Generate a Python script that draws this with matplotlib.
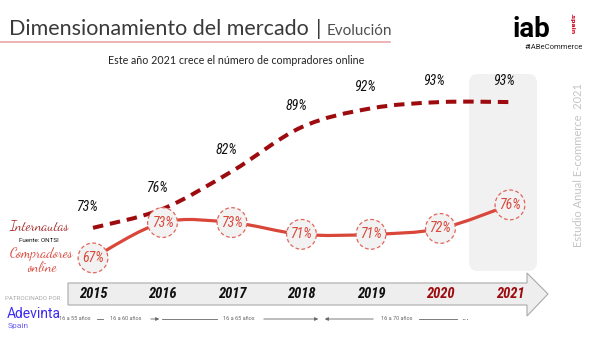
import matplotlib
matplotlib.use("Agg")
import matplotlib.pyplot as plt
import numpy as np
from matplotlib.path import Path
from matplotlib.patches import PathPatch, FancyBboxPatch, Polygon

# data
years = ["2015", "2016", "2017", "2018", "2019", "2020", "2021"]
internautas = [73, 76, 82, 89, 92, 93, 93]
compradores = [67, 73, 73, 71, 71, 72, 76]
edades = ["16 a 55 años", "16 a 60 años", "16 a 65 años", "16 a 70 años"]

DARK = "#9E0B0F"
CORAL = "#D9473A"
NARROW = ["Roboto Condensed", "DejaVu Sans"]
SCRIPT = ["Dancing Script", "DejaVu Serif"]
TITLE = ["Lato", "DejaVu Sans"]
PLAIN = ["Roboto", "DejaVu Sans"]


def smooth(x, y):
    # catmull-rom -> bezier, drawn by matplotlib's own curve renderer
    pts = np.column_stack([x, y]).astype(float)
    n = len(pts)
    verts = [pts[0]]
    codes = [Path.MOVETO]
    for i in range(n - 1):
        p0 = pts[max(i - 1, 0)]
        p1 = pts[i]
        p2 = pts[i + 1]
        p3 = pts[min(i + 2, n - 1)]
        verts += [p1 + (p2 - p0) / 6.0, p2 - (p3 - p1) / 6.0, p2]
        codes += [Path.CURVE4] * 3
    return Path(verts, codes)


fig = plt.figure(figsize=(6, 3.38), dpi=100)
W, H = 600.0, 338.0

# overlay in pixel coords for decoration
ov = fig.add_axes([0, 0, 1, 1])
ov.set_xlim(0, W)
ov.set_ylim(H, 0)
ov.axis("off")

# title
ov.text(9, 35, "Dimensionamiento del mercado", fontsize=15.5, color="#3A3A3A",
        family=TITLE, va="baseline")
ov.text(316, 35, "|", fontsize=15.5, color="#3A3A3A", family=TITLE, va="baseline")
ov.text(327, 35, "Evolución", fontsize=11, color="#505050", family=TITLE, va="baseline")
ov.plot([0, 390], [42, 42], color="#E8A9A6", lw=1.2)
ov.text(236, 61, "Este año 2021 crece el número de compradores online", fontsize=7.7,
        color="#222222", family=TITLE, ha="center", va="center")

# iab logo
ov.text(513, 37, "iab", fontsize=20, fontweight="bold", color="black",
        family=PLAIN, va="baseline")
ov.text(572, 24, ".spain", fontsize=4.5, color="#D0021B", rotation=-90,
        ha="center", va="center", fontweight="bold")
ov.text(554, 47, "#IABeCommerce", fontsize=5.5, color="#222222", ha="center", va="center",
        family=PLAIN)

# vertical side text
ov.text(579, 165, "Estudio Anual E-commerce  2021", fontsize=8, color="#C4C4C4",
        rotation=90, ha="center", va="center", family=TITLE)

# highlight for 2021
ov.add_patch(FancyBboxPatch((469, 74), 68, 197, boxstyle="round,pad=0,rounding_size=9",
                            fc="#F1F1F1", ec="none", zorder=0))

# timeline arrow
ov.add_patch(Polygon([(68, 283), (527, 283), (527, 273), (548, 294), (527, 316),
                      (527, 305), (68, 305)], closed=True, fc="#EEEEEE",
                     ec="#AAAAAA", lw=0.8, zorder=1))

# chart axes
ax = fig.add_axes([60 / W, 1 - 275 / H, 485 / W, 205 / H])
ax.set_xlim(-0.475, 6.504)
ax.set_ylim(65.5, 98.1)
ax.axis("off")
ax.patch.set_alpha(0)
ax2 = fig.add_axes(ax.get_position())
ax2.set_xlim(ax.get_xlim())
ax2.set_ylim(64.1, 98.9)
ax2.axis("off")
ax2.patch.set_alpha(0)

x = np.arange(len(years))

ax.add_patch(PathPatch(smooth(x, internautas), fill=False, ec=DARK, lw=2.9,
                       linestyle=(0, (2.6, 1.7)), capstyle="butt"))
for xi, v in zip(x, internautas):
    ax.annotate(f"{v}%", (xi, v), xytext=(-4, 10), textcoords="offset points",
                ha="center", va="bottom", fontsize=10, style="italic",
                family=NARROW, color="#111111")

ax2.add_patch(PathPatch(smooth(x, compradores), fill=False, ec=CORAL, lw=2.3,
                        capstyle="round", zorder=2))
ax2.scatter(x, compradores, s=460, facecolor="#F2F2F2", edgecolor="#E0665B",
            linewidths=0.9, linestyle=(0, (3, 2)), zorder=3)
for xi, v in zip(x, compradores):
    ax2.text(xi, v, f"{v}%", ha="center", va="center", fontsize=10,
             style="italic", family=NARROW, color=CORAL, zorder=4)

# year labels inside the arrow
ya = fig.add_axes([60 / W, 1 - 305 / H, 485 / W, 22 / H])
ya.set_xlim(ax.get_xlim())
ya.set_ylim(0, 1)
ya.axis("off")
ya.patch.set_alpha(0)
for xi, yr in zip(x, years):
    col = DARK if yr in ("2020", "2021") else "#111111"
    ya.text(xi, 0.5, yr, ha="center", va="center", fontsize=10.5, style="italic",
            fontweight="bold", family=NARROW, color=col)

# left legend
ov.text(39, 227, "Internautas", fontsize=10, color="#A52A2A", fontweight="bold",
        family=SCRIPT, ha="center", va="center")
ov.text(39, 241, "Fuente: ONTSI", fontsize=4.5, color="#111111", ha="center", va="center",
        family=PLAIN)
ov.text(41, 254, "Compradores", fontsize=10, color=CORAL,
        family=SCRIPT, ha="center", va="center")
ov.text(42, 268, "online", fontsize=10, color=CORAL,
        family=SCRIPT, ha="center", va="center")

# sponsor
ov.text(5, 298, "PATROCINADO POR:", fontsize=4.5, color="#AAAAAA", va="center", family=PLAIN)
ov.text(7, 314, "Adevinta", fontsize=10, color="#3D2BF0", va="center", family=PLAIN)
ov.text(8, 326, "Spain", fontsize=6, color="#6A5CF0", va="center", family=PLAIN)

# age ranges under the timeline
rc = "#666666"
yr_ = 319
small = dict(fontsize=4, color=rc, ha="center", va="center", family=PLAIN)
ov.text(75, yr_, edades[0], **small)
ov.plot([97, 103], [yr_, yr_], color=rc, lw=0.6)
ov.text(126, yr_, edades[1], **small)
ov.annotate("", xy=(162, yr_), xytext=(148, yr_),
            arrowprops=dict(arrowstyle="-|>", color=rc, lw=0.6, mutation_scale=5))
ov.plot([162, 217], [yr_, yr_], color=rc, lw=0.6)
ov.text(239, yr_, edades[2], **small)
ov.annotate("", xy=(321, yr_), xytext=(261, yr_),
            arrowprops=dict(arrowstyle="-|>", color=rc, lw=0.6, mutation_scale=5))
ov.annotate("", xy=(322, yr_), xytext=(376, yr_),
            arrowprops=dict(arrowstyle="-|>", color=rc, lw=0.6, mutation_scale=5))
ov.text(397, yr_, edades[3], **small)
ov.plot([419, 457], [yr_, yr_], color=rc, lw=0.6)
ov.text(465, yr_ - 2, "...", fontsize=6, color="#333333", ha="center", va="center")

fig.savefig("out.png", dpi=100)
